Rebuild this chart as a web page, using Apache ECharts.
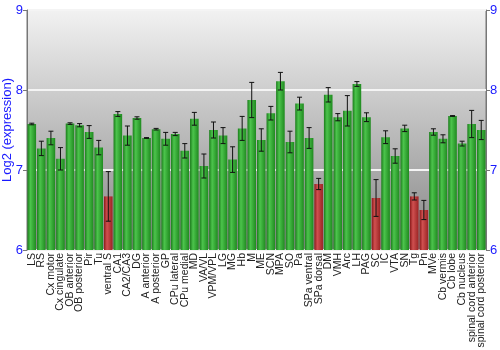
<!DOCTYPE html>
<html><head><meta charset="utf-8">
<script src="https://cdn.jsdelivr.net/npm/echarts@6/dist/echarts.min.js"></script>
<style>html,body{margin:0;padding:0;background:#fff}#c{width:500px;height:350px}</style>
</head><body><div id="c"></div>
<script>
const categories = ["LS","RS","Cx motor","Cx cingulate","OB anterior","OB posterior","Pir","Tu","ventral S","CA1","CA2/CA3","DG","A anterior","A posterior","GP","CPu lateral","CPu medial","MD","VA/VL","VPM/VPL","LG","MG","Hb","M","ME","SCN","MPA","SO","Pa","SPa ventral","SPa dorsal","DM","VMH","Arc","LH","PAG","SC","IC","VTA","SN","Tg","Pn","MVe","Cb vermis","Cb lobe","Cb nucleus","spinal cord anterior","spinal cord posterior"];
const values = [7.575,7.27,7.40,7.14,7.58,7.56,7.475,7.28,6.67,7.70,7.43,7.65,7.40,7.51,7.39,7.45,7.24,7.64,7.05,7.50,7.43,7.13,7.52,7.875,7.375,7.71,8.11,7.35,7.83,7.40,6.825,7.94,7.66,7.74,8.075,7.66,6.65,7.41,7.175,7.52,6.67,6.50,7.475,7.39,7.675,7.33,7.575,7.50];
const errors = [0.01,0.09,0.085,0.14,0.01,0.02,0.08,0.09,0.31,0.03,0.12,0.015,0.005,0.01,0.08,0.02,0.09,0.08,0.15,0.10,0.10,0.16,0.15,0.22,0.14,0.085,0.11,0.135,0.08,0.13,0.07,0.09,0.045,0.19,0.03,0.055,0.23,0.08,0.09,0.04,0.045,0.12,0.04,0.05,0.005,0.03,0.17,0.12];
const yTicks = [6,7,8,9];

const green = new echarts.graphic.LinearGradient(0,0,1,0,[{offset:0,color:'#1b7d1b'},{offset:0.35,color:'#4cc44c'},{offset:1,color:'#1f8a1f'}]);
const red = new echarts.graphic.LinearGradient(0,0,1,0,[{offset:0,color:'#8a1a1a'},{offset:0.35,color:'#d05050'},{offset:1,color:'#9a2424'}]);

const chart = echarts.init(document.getElementById('c'));
const blue = '#1a1aff';
const yAxisBase = {
  type:'value', min:yTicks[0], max:yTicks[yTicks.length-1], interval:1,
  axisLine:{show:true,lineStyle:{color:'#777',width:1}},
  axisTick:{show:true,length:4,lineStyle:{color:'#777'}},
};
chart.setOption({
  animation:false,
  grid:{left:27,right:14,top:10,bottom:100,outerBoundsMode:'none',containLabel:false,show:true,borderColor:'#777',borderWidth:1,
    backgroundColor:new echarts.graphic.LinearGradient(0,0,0,1,[{offset:0,color:'#f2f2f2'},{offset:1,color:'#868686'}])},
  xAxis:{type:'category',data:categories,
    axisLine:{show:false},axisTick:{show:false},
    axisLabel:{interval:0,rotate:90,fontSize:10.5,color:'#222',margin:3,fontFamily:'Liberation Sans, Arial'}},
  yAxis:[
    Object.assign({},yAxisBase,{position:'left',name:'Log2 (expression)',nameLocation:'middle',nameGap:13,
      nameMoveOverlap:false,
      nameTextStyle:{color:blue,fontSize:13,fontFamily:'Liberation Sans, Arial'},
      axisLabel:{color:blue,fontSize:13,margin:4,fontFamily:'Liberation Sans, Arial'},
      splitLine:{show:true,lineStyle:{color:'#f4f4f4',width:2}}}),
    Object.assign({},yAxisBase,{position:'right',splitLine:{show:false},
      axisLabel:{color:blue,fontSize:13,margin:4,fontFamily:'Liberation Sans, Arial'}})
  ],
  series:[
    {type:'bar',barCategoryGap:'10%',
     data:values.map(v=>({value:v,itemStyle:{color:v<7?red:green}}))},
    {type:'custom',
     data:values.map((v,i)=>[i,v-errors[i],v+errors[i]]),
     renderItem:function(params,api){
       const lo=api.coord([api.value(0),api.value(1)]);
       const hi=api.coord([api.value(0),api.value(2)]);
       const x=lo[0], w=2.5;
       const st={stroke:'#111',lineWidth:1};
       return {type:'group',children:[
         {type:'line',shape:{x1:x,y1:lo[1],x2:x,y2:hi[1]},style:st},
         {type:'line',shape:{x1:x-w,y1:lo[1],x2:x+w,y2:lo[1]},style:st},
         {type:'line',shape:{x1:x-w,y1:hi[1],x2:x+w,y2:hi[1]},style:st}
       ]};
     },z:10}
  ]
});
</script></body></html>
